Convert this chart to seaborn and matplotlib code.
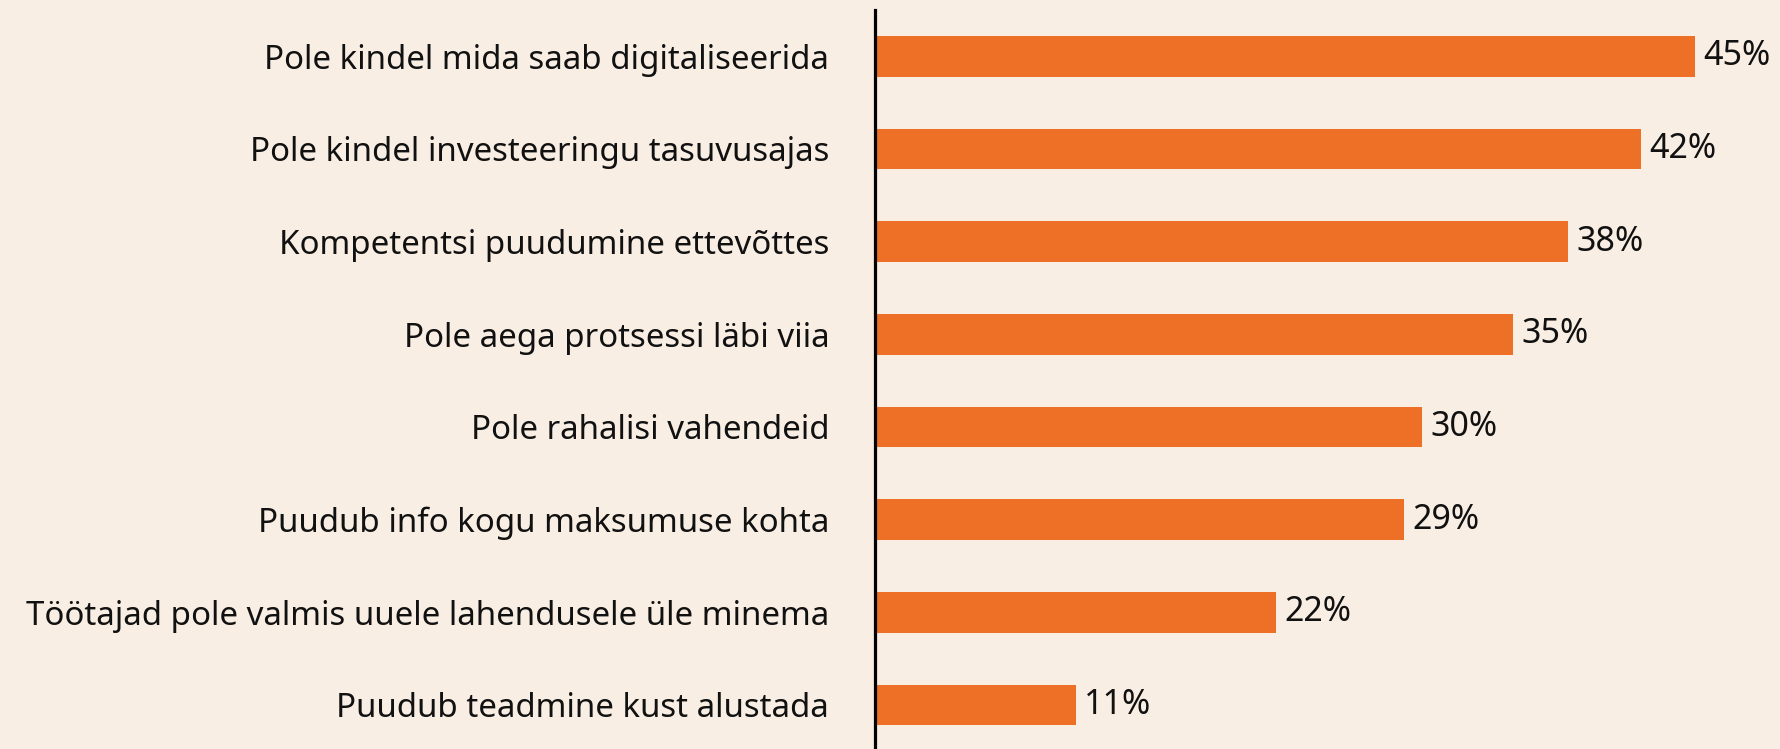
import matplotlib
matplotlib.use("Agg")
import matplotlib.pyplot as plt
import seaborn as sns
import pandas as pd

categories = [
    "Pole kindel mida saab digitaliseerida",
    "Pole kindel investeeringu tasuvusajas",
    "Kompetentsi puudumine ettevõttes",
    "Pole aega protsessi läbi viia",
    "Pole rahalisi vahendeid",
    "Puudub info kogu maksumuse kohta",
    "Töötajad pole valmis uuele lahendusele üle minema",
    "Puudub teadmine kust alustada",
]
values = [45, 42, 38, 35, 30, 29, 22, 11]

bg = "#F9EEE4"
bar_color = "#EE6F26"

sns.set_style("white")
plt.rcParams["font.family"] = ["Noto Sans", "DejaVu Sans"]

df = pd.DataFrame({"category": categories, "value": values})

fig = plt.figure(figsize=(17.81, 7.49), dpi=100, facecolor=bg)
ax = fig.add_axes([0.4913, -0.003, 0.5087, 0.9898])
ax.set_facecolor(bg)

sns.barplot(data=df, x="value", y="category", color=bar_color, width=0.44,
            saturation=1, linewidth=0, ax=ax)

ax.set_xlim(0, 49.7)
ax.set_ylim(7.5, -0.5)
ax.set_xlabel("")
ax.set_ylabel("")
ax.set_xticks([])
ax.tick_params(axis="y", length=0, pad=33, labelsize=23.8, labelcolor="#111111")

for s in ["top", "right", "bottom"]:
    ax.spines[s].set_visible(False)
ax.spines["left"].set_color("black")
ax.spines["left"].set_linewidth(2.3)

ax.bar_label(ax.containers[0], labels=[f"{v}%" for v in values], padding=6,
             fontsize=24.5, color="#111111")

fig.savefig("out.png", dpi=100, facecolor=bg)
